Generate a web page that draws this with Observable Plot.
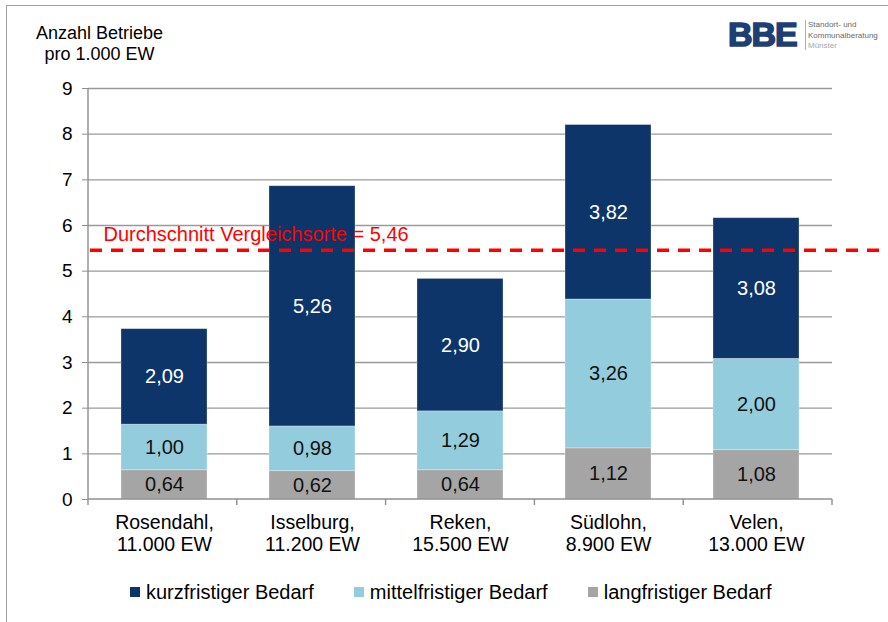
<!DOCTYPE html>
<html><head><meta charset="utf-8">
<script src="https://cdn.jsdelivr.net/npm/d3@7"></script>
<script src="https://cdn.jsdelivr.net/npm/@observablehq/plot@0.6"></script>
<style>
html,body{margin:0;padding:0;background:#fff;}
body{width:888px;height:622px;overflow:hidden;position:relative;font-family:"Liberation Sans",Arial,sans-serif;color:#000;}
#frame{position:absolute;left:6px;top:5px;width:1000px;height:1000px;border-top:1.5px solid #a0a0a0;border-left:1.5px solid #a0a0a0;}
#chart{position:absolute;left:0;top:0;}
#ytitle{position:absolute;left:0;top:23px;width:199px;text-align:center;font-size:18px;line-height:21px;}
#logo{position:absolute;left:727px;top:17px;height:40px;}
#logo .bbe{position:absolute;left:1px;top:0;font-weight:bold;font-size:34px;line-height:34px;color:#1e3f74;letter-spacing:-1px;-webkit-text-stroke:1.6px #1e3f74;}
#logo .sep{position:absolute;left:78px;top:3px;width:1px;height:30px;background:#b0b0b0;}
#logo .sub{position:absolute;left:81px;top:3px;font-size:8px;line-height:10.5px;color:#6a6a6a;white-space:nowrap;}
#logo .sub .m{color:#a8a8a8;}
#legend{position:absolute;left:130px;top:580px;display:flex;gap:40px;font-size:20px;line-height:24px;white-space:nowrap;}
#legend .item{display:flex;align-items:center;}
#legend .sw{width:10px;height:10px;margin-right:6px;}
</style></head><body>
<div id="frame"></div>
<div id="chart"></div>
<div id="ytitle">Anzahl Betriebe<br>pro 1.000 EW</div>
<div id="logo"><span class="bbe">BBE</span><span class="sep"></span><span class="sub">Standort- und<br>Kommunalberatung<br><span class="m">Münster</span></span></div>
<div id="legend"></div>
<script>
// ---- data ----
const categories = ["Rosendahl", "Isselburg", "Reken", "Südlohn", "Velen"];
const population = ["11.000 EW", "11.200 EW", "15.500 EW", "8.900 EW", "13.000 EW"];
const seriesNames = ["langfristiger Bedarf", "mittelfristiger Bedarf", "kurzfristiger Bedarf"];
const langfristig = [0.64, 0.62, 0.64, 1.12, 1.08];
const mittelfristig = [1.00, 0.98, 1.29, 3.26, 2.00];
const kurzfristig = [2.09, 5.26, 2.90, 3.82, 3.08];
const seriesColors = ["#a5a5a5", "#93cddd", "#0d3569"];
const legendOrder = ["kurzfristiger Bedarf", "mittelfristiger Bedarf", "langfristiger Bedarf"];
const average = 5.46;
const averageLabel = "Durchschnitt Vergleichsorte = 5,46";
const yTicks = [0, 1, 2, 3, 4, 5, 6, 7, 8, 9];

// ---- table ----
const seriesValues = [langfristig, mittelfristig, kurzfristig];
const rows = [];
categories.forEach((cat, i) => {
  seriesNames.forEach((s, j) => rows.push({cat, series: s, value: seriesValues[j][i]}));
});
const fmt = v => v.toFixed(2).replace(".", ",");
const darkSeries = "kurzfristiger Bedarf";

const axesMark = (index, scales, values, dim) => {
  const {y} = scales;
  const left = dim.marginLeft, right = dim.width - dim.marginRight;
  const y0 = y(0), yTop = y(9);
  const g = d3.create("svg:g").attr("stroke", "#8f8f8f").attr("stroke-width", 1.4).attr("fill", "none");
  g.append("line").attr("x1", left).attr("x2", left).attr("y1", yTop).attr("y2", y0);
  g.append("line").attr("x1", left).attr("x2", right).attr("y1", y0).attr("y2", y0);
  const n = categories.length;
  for (let i = 0; i <= n; i++) {
    const xx = left + i * (right - left) / n;
    g.append("line").attr("x1", xx).attr("x2", xx).attr("y1", y0).attr("y2", y0 + 6);
  }
  return g.node();
};

const chart = Plot.plot({
  width: 888, height: 570,
  marginTop: 88, marginBottom: 71, marginLeft: 88, marginRight: 56,
  style: {fontFamily: "Liberation Sans, Arial, sans-serif", fontSize: "19px", color: "#000", background: "transparent", overflow: "visible"},
  x: {domain: categories, paddingInner: 0.42, paddingOuter: 0.21, label: null},
  y: {domain: [0, 9], label: null},
  color: {domain: seriesNames, range: seriesColors},
  marks: [
    Plot.gridY(yTicks.filter(t => t > 0), {stroke: "#9a9a9a", strokeOpacity: 1, strokeWidth: 1.4}),
    Plot.barY(rows, {x: "cat", y: "value", fill: "series", stroke: "#ffffff", strokeOpacity: 0.35, strokeWidth: 0.8}),
    axesMark,
    Plot.axisY(yTicks, {tickSize: 6, tickPadding: 10, fontSize: 19, stroke: "#8f8f8f", fill: "#000", label: null}),
    Plot.axisX({tickSize: 0, tickPadding: 14, fontSize: 19.5, lineHeight: 1.13, fill: "#000", label: null,
      tickFormat: d => `${d},\n${population[categories.indexOf(d)]}`}),
    Plot.text(rows, Plot.stackY({x: "cat", y: "value", z: "series",
      text: d => d.series === darkSeries ? fmt(d.value) : "", fill: "#ffffff", fontSize: 20})),
    Plot.text(rows, Plot.stackY({x: "cat", y: "value", z: "series",
      text: d => d.series !== darkSeries ? fmt(d.value) : "", fill: "#111111", fontSize: 20})),
    Plot.ruleY([average], {stroke: "#ff0000", strokeWidth: 3.5, strokeDasharray: "12,9", insetLeft: 2, insetRight: -48}),
    Plot.text([average], {y: d => d, text: () => averageLabel, frameAnchor: "left", textAnchor: "start",
      dx: 15, dy: -16, fill: "#ff0000", fontSize: 20})
  ]
});
document.getElementById("chart").appendChild(chart);

// ---- legend ----
const legend = document.getElementById("legend");
legendOrder.forEach(name => {
  const item = document.createElement("div");
  item.className = "item";
  const sw = document.createElement("span");
  sw.className = "sw";
  sw.style.background = seriesColors[seriesNames.indexOf(name)];
  const t = document.createElement("span");
  t.textContent = name;
  item.appendChild(sw); item.appendChild(t);
  legend.appendChild(item);
});
</script>
</body></html>
